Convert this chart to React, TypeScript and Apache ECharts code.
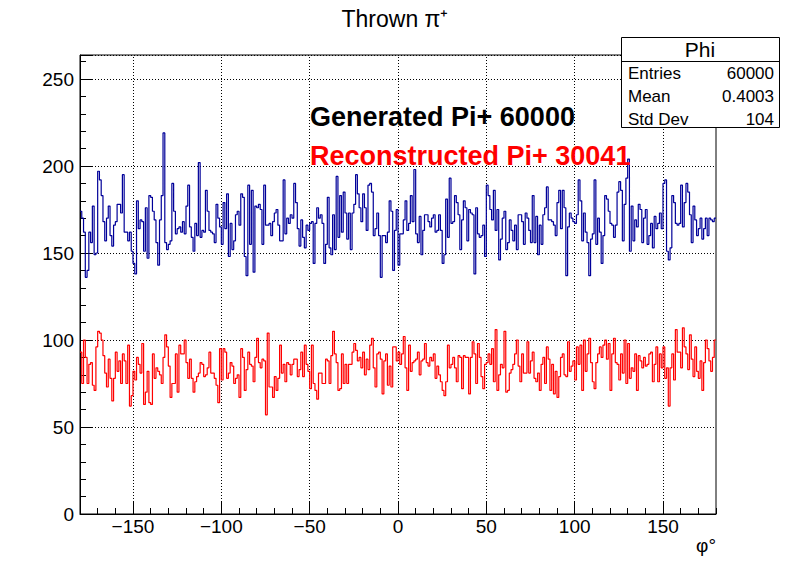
import React, { useEffect, useRef } from "react";
import * as echarts from "echarts";

// Bin counts, 360 bins of 1 degree from -180 to 180
const generatedCounts: number[] = [
  174,170,162,136,140,162,156,177,149,150,197,192,183,168,157,170,177,160,154,166,168,178,178,173,195,162,162,157,162,151,144,138,180,164,169,168,151,176,147,183,
  182,174,169,156,143,169,183,219,156,152,155,157,190,174,161,164,165,162,168,161,177,189,165,159,151,167,160,202,159,163,162,186,174,163,162,161,156,178,170,165,
  155,179,164,184,148,167,152,157,172,174,166,184,182,148,137,189,155,186,139,177,176,178,175,155,189,166,166,167,160,168,173,175,166,157,157,192,161,170,167,172,
  170,190,179,164,154,169,159,153,166,163,167,168,144,167,176,170,172,167,144,155,182,153,149,172,152,194,159,183,162,185,173,158,173,152,173,178,195,184,176,168,
  184,176,163,189,190,185,160,164,173,160,136,160,160,156,162,180,174,140,163,175,143,161,161,169,180,163,167,183,168,198,161,156,171,149,163,172,172,168,165,170,
  172,162,163,172,163,144,149,181,159,193,167,168,183,179,172,152,169,180,176,157,175,173,172,138,176,161,159,160,166,148,189,183,175,169,186,163,175,146,158,170,
  174,152,156,169,163,157,166,152,172,172,168,155,173,170,163,156,183,156,171,149,166,155,172,176,188,169,169,168,166,160,179,186,164,186,176,137,165,173,170,168,
  167,172,192,180,157,173,162,156,137,158,161,192,155,170,162,144,160,183,181,174,167,166,159,166,185,191,186,157,178,193,204,151,177,157,169,165,178,175,156,170,
  175,155,160,167,153,171,164,167,173,164,190,192,151,146,153,183,179,167,166,167,189,165,179,190,185,172,156,177,169,160,164,170,158,164,170,160,170,169,168,170,
];

const reconstructedCounts: number[] = [
  93,75,100,90,75,86,87,74,71,96,105,104,100,91,81,73,89,78,65,78,93,82,88,75,92,88,75,97,62,68,82,77,90,86,81,98,63,70,82,64,
  63,92,78,84,82,80,75,90,103,96,85,67,75,75,92,70,97,92,92,100,87,78,89,78,70,76,79,81,87,86,79,80,84,93,81,81,78,74,64,95,
  77,95,93,78,81,87,85,75,78,80,67,95,90,71,83,93,86,85,76,90,101,87,84,89,88,57,104,73,73,67,79,71,78,97,81,86,76,87,86,80,
  86,89,89,79,83,93,79,97,86,82,72,97,75,71,66,81,81,75,75,89,88,75,91,105,92,87,71,72,92,75,86,75,86,86,93,98,94,88,90,84,
  93,80,89,83,97,101,84,73,92,93,89,69,88,92,74,85,73,96,96,88,93,86,92,102,84,71,97,82,87,88,89,93,80,88,89,98,87,85,90,88,
  92,78,85,80,76,71,68,76,97,84,86,90,84,76,91,90,72,91,90,90,69,90,99,92,75,98,90,79,72,86,87,92,86,95,76,106,71,80,86,84,
  105,70,71,81,83,86,92,100,85,76,92,81,81,99,81,88,93,78,76,81,71,86,90,75,96,89,71,86,69,82,67,79,90,92,80,79,99,82,85,88,
  77,96,86,97,71,100,82,92,101,87,76,72,87,92,96,90,97,100,89,98,71,92,101,87,86,77,92,81,100,75,98,78,84,82,92,71,91,88,84,90,
  85,86,92,93,76,86,96,76,92,84,96,78,84,62,84,92,77,106,93,93,84,107,96,92,83,103,89,79,96,82,78,88,71,87,100,95,88,82,90,100,
];

const xMajorTicks: number[] = [-150, -100, -50, 0, 50, 100, 150];
const xMin = -180;
const xMax = 180;
const yMax = 263.8;

const titleText = "Thrown π⁺";
const xAxisTitle = "φ°";
const generatedLabel = "Generated Pi+ 60000";
const reconstructedLabel = "Reconstructed Pi+ 30041";
const statsTitle = "Phi";
const statsNames = ["Entries", "Mean", "Std Dev"];
const statsValues = ["60000", "0.4003", "104"];

const FONT = "'Liberation Sans', Arial, Helvetica, sans-serif";

function toSteps(counts: number[]): number[][] {
  const pts = counts.map((v, i) => [xMin + i, v]);
  pts.push([xMax, counts[counts.length - 1]]);
  return pts;
}

const minus = (v: number) => String(v).replace("-", "\u2212");

export default function App() {
  const ref = useRef<HTMLDivElement>(null);

  useEffect(() => {
    if (!ref.current) return;
    const chart = echarts.init(ref.current, null, { renderer: "svg" });
    const statsRows: any[] = [];
    statsNames.forEach((n, i) => {
      statsRows.push({
        type: "text",
        x: 628,
        y: 73 + i * 23,
        z: 101,
        style: { text: n, fontSize: 17, fill: "#000", align: "left", verticalAlign: "middle", fontFamily: FONT },
      });
      statsRows.push({
        type: "text",
        x: 774,
        y: 73 + i * 23,
        z: 101,
        style: { text: statsValues[i], fontSize: 17, fill: "#000", align: "right", verticalAlign: "middle", fontFamily: FONT },
      });
    });

    chart.setOption({
      animation: false,
      textStyle: { fontFamily: FONT },
      grid: {
        left: 80,
        right: 80,
        top: 55,
        bottom: 58,
        show: true,
        borderColor: "#000",
        borderWidth: 1,
      },
      xAxis: [
        {
          type: "value",
          min: xMin,
          max: xMax,
          interval: 10,
          axisLine: { show: true, onZero: false, lineStyle: { color: "#000", width: 1 } },
          axisTick: { show: true, inside: true, length: 6, lineStyle: { color: "#000" } },
          axisLabel: { show: false },
          splitLine: { show: false },
        },
        {
          type: "value",
          min: xMin,
          max: xMax,
          position: "bottom",
          axisLine: { show: false, onZero: false },
          axisTick: { show: true, inside: true, length: 12, customValues: xMajorTicks, lineStyle: { color: "#000" } },
          axisLabel: {
            show: true,
            customValues: xMajorTicks,
            formatter: (v: number) => minus(v),
            fontSize: 19,
            color: "#000",
            margin: 3,
            fontFamily: FONT,
          },
          splitLine: { show: false },
        },
      ],
      yAxis: {
        type: "value",
        min: 0,
        max: yMax,
        interval: 50,
        axisLine: { show: true, onZero: false, lineStyle: { color: "#000", width: 1 } },
        axisTick: { show: true, inside: true, length: 12, lineStyle: { color: "#000" } },
        minorTick: { show: true, splitNumber: 5, length: 6, lineStyle: { color: "#000" } },
        axisLabel: { fontSize: 19, color: "#000", margin: 6, showMaxLabel: false, fontFamily: FONT },
        splitLine: { show: true, lineStyle: { color: "#000", type: [1, 2], width: 1 } },
      },
      series: [
        {
          type: "line",
          name: "generated",
          xAxisIndex: 0,
          step: "end",
          showSymbol: false,
          symbol: "none",
          data: toSteps(generatedCounts),
          lineStyle: { color: "#000099", width: 1.2 },
          markLine: {
            silent: true,
            symbol: "none",
            label: { show: false },
            lineStyle: { color: "#000", type: [1, 2], width: 1 },
            data: xMajorTicks.map((v) => ({ xAxis: v })),
            z: 1,
          },
        },
        {
          type: "line",
          name: "reconstructed",
          xAxisIndex: 0,
          step: "end",
          showSymbol: false,
          symbol: "none",
          data: toSteps(reconstructedCounts),
          lineStyle: { color: "#ff0000", width: 1.2 },
        },
      ],
      graphic: [
        {
          type: "text",
          x: 395,
          y: 19,
          style: { text: titleText, fontSize: 23, fill: "#000", align: "center", verticalAlign: "middle", fontFamily: FONT },
        },
        {
          type: "text",
          x: 310,
          y: 117,
          z: 50,
          style: { text: generatedLabel, fontSize: 27, fontWeight: "bold", fill: "#000", align: "left", verticalAlign: "middle", fontFamily: FONT },
        },
        {
          type: "text",
          x: 310,
          y: 156,
          z: 50,
          style: { text: reconstructedLabel, fontSize: 27, fontWeight: "bold", fill: "#ff0000", align: "left", verticalAlign: "middle", fontFamily: FONT },
        },
        {
          type: "text",
          x: 716,
          y: 545,
          style: { text: xAxisTitle, fontSize: 19, fill: "#000", align: "right", verticalAlign: "middle", fontFamily: FONT },
        },
        {
          type: "rect",
          z: 100,
          shape: { x: 621.5, y: 37.5, width: 158, height: 90 },
          style: { fill: "#fff", stroke: "#000", lineWidth: 1 },
        },
        {
          type: "line",
          z: 101,
          shape: { x1: 621.5, y1: 61.5, x2: 779.5, y2: 61.5 },
          style: { stroke: "#000", lineWidth: 1 },
        },
        {
          type: "text",
          x: 700,
          y: 49,
          z: 101,
          style: { text: statsTitle, fontSize: 21, fill: "#000", align: "center", verticalAlign: "middle", fontFamily: FONT },
        },
        ...statsRows,
      ],
    });
    return () => chart.dispose();
  }, []);

  return <div ref={ref} style={{ width: 796, height: 572, margin: -8, background: "#fff" }} />;
}
